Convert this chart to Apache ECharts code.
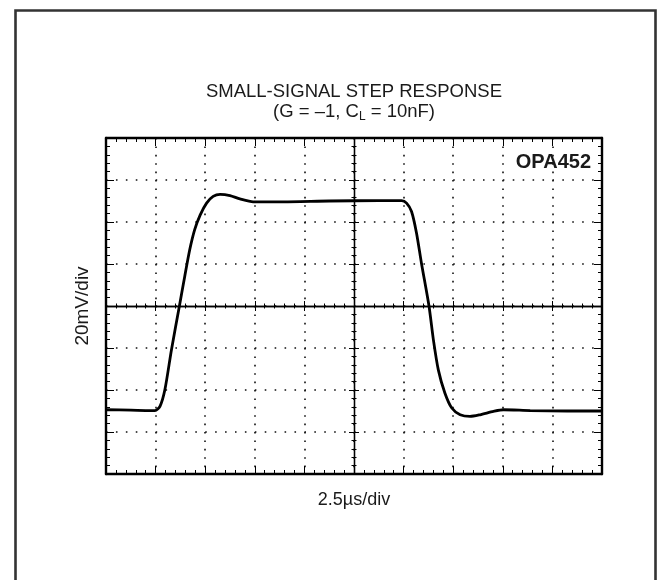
<!DOCTYPE html>
<html>
<head>
<meta charset="utf-8">
<script src="https://cdn.jsdelivr.net/npm/echarts@6.0.0/dist/echarts.min.js"></script>
<style>
html,body{margin:0;padding:0;background:#fff;}
#chart{width:660px;height:580px;}
</style>
</head>
<body>
<div id="chart"></div>
<script>
// time in microseconds (relative to screen centre), 2.5 µs/div
const timeUs = [-12.5, -11.25, -10.25, -10.03, -9.78, -9.53, -9.2, -8.8, -8.53, -8.28, -8.03, -7.75, -7.43, -7.1, -6.75, -6.25, -5.75, -5.08, -3.73, -1.25, 1.25, 2.4, 2.65, 2.9, 3.15, 3.4, 3.78, 4.0, 4.25, 4.58, 4.93, 5.35, 5.85, 6.35, 7.03, 7.53, 8.88, 10.75, 12.5];
// output voltage in mV, 20 mV/div
const voltMv = [-49.4, -49.6, -49.8, -49.8, -47.8, -39.8, -20.8, 0, 14.2, 26.8, 36.4, 43.4, 49.0, 52.2, 53.2, 52.6, 51.0, 49.6, 49.6, 50.0, 50.2, 50.2, 49.0, 45.0, 34.8, 20.4, 0, -16.0, -30.4, -41.4, -48.6, -51.8, -52.6, -51.8, -50.2, -49.4, -49.8, -50.0, -50.0];

const titleLine1 = 'SMALL-SIGNAL STEP RESPONSE';
const titleLine2 = '{a|(G = –1, C}{s|L}{a| = 10nF)}';
const xName = '2.5µs/div';
const yName = '20mV/div';
const partName = 'OPA452';

const xRange = { min: -12.5, max: 12.5, interval: 2.5 };
const yRange = { min: -80, max: 80, interval: 20 };

const FONT = '"Liberation Sans", Arial, Helvetica, sans-serif';
const INK = '#000';
const TXT = '#1a1a1a';

function borderAxis(range, position, extra) {
  return Object.assign({
    type: 'value', position: position,
    min: range.min, max: range.max, interval: range.interval,
    axisLine: { show: true, onZero: false, lineStyle: { color: INK, width: 2.4 } },
    axisTick: { show: true, inside: true, length: 8, lineStyle: { color: INK, width: 1 } },
    minorTick: { show: true, splitNumber: 5, length: 4, lineStyle: { color: INK, width: 1 } },
    axisLabel: { show: false },
    splitLine: { show: false }
  }, extra || {});
}
function centerAxis(range, position, inside) {
  return {
    type: 'value', position: position,
    min: range.min, max: range.max, interval: range.interval,
    axisLine: { show: true, onZero: true, onZeroAxisIndex: 0, lineStyle: { color: INK, width: 1.3 } },
    axisTick: { show: true, inside: inside, length: 5, lineStyle: { color: INK, width: 1 } },
    minorTick: { show: true, splitNumber: 5, length: 2.5, lineStyle: { color: INK, width: 1 } },
    axisLabel: { show: false },
    splitLine: { show: false }
  };
}

const chart = echarts.init(document.getElementById('chart'), null, { renderer: 'canvas' });
chart.setOption({
  animation: false,
  backgroundColor: '#fff',
  grid: { left: 106, top: 138, width: 496, height: 336, containLabel: false },
  xAxis: [
    borderAxis(xRange, 'bottom', {
      name: xName, nameLocation: 'middle', nameGap: 17,
      nameTextStyle: { fontSize: 18, fontFamily: FONT, color: TXT },
      splitLine: { show: true, lineStyle: { color: '#111', width: 1.6, type: [1.6, 6.8] } }
    }),
    borderAxis(xRange, 'top'),
    centerAxis(xRange, 'bottom', true),
    centerAxis(xRange, 'bottom', false)
  ],
  yAxis: [
    borderAxis(yRange, 'left', {
      name: yName, nameLocation: 'middle', nameGap: 14, nameRotate: 90,
      nameTextStyle: { fontSize: 19, fontFamily: FONT, color: TXT },
      splitLine: { show: true, lineStyle: { color: '#111', width: 1.6, type: [1.6, 8.32] } }
    }),
    borderAxis(yRange, 'right'),
    centerAxis(yRange, 'left', true),
    centerAxis(yRange, 'left', false)
  ],
  series: [{
    type: 'line',
    xAxisIndex: 0, yAxisIndex: 0,
    data: timeUs.map((t, i) => [t, voltMv[i]]),
    showSymbol: false,
    smooth: 0.25,
    lineStyle: { color: INK, width: 2.8 },
    z: 10
  }],
  graphic: [
    {
      type: 'polyline', silent: true,
      shape: { points: [[15.5, 580], [15.5, 10.5], [655.5, 10.5], [655.5, 580]] },
      style: { stroke: '#333', lineWidth: 2.6, fill: null }
    },
    {
      type: 'text', x: 354, y: 92,
      style: { text: titleLine1, textAlign: 'center', textVerticalAlign: 'middle',
               fontSize: 18.5, fontFamily: FONT, fill: TXT }
    },
    {
      type: 'text', x: 354, y: 112,
      style: { text: titleLine2, textAlign: 'center', textVerticalAlign: 'middle',
               fontSize: 18.5, fontFamily: FONT, fill: TXT,
               rich: {
                 a: { fontSize: 18.5, fontFamily: FONT, fill: TXT, lineHeight: 22 },
                 s: { fontSize: 12, fontFamily: FONT, fill: TXT, verticalAlign: 'bottom' }
               } }
    },
    {
      type: 'text', x: 591, y: 162, z: 20,
      style: { text: partName, textAlign: 'right', textVerticalAlign: 'middle',
               fontSize: 20, fontWeight: 'bold', fontFamily: FONT, fill: TXT }
    }
  ]
});
</script>
</body>
</html>
